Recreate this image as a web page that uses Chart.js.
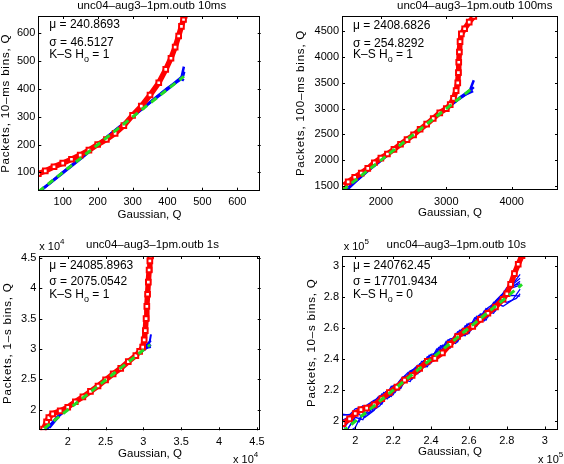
<!DOCTYPE html>
<html>
<head>
<meta charset="utf-8">
<script src="https://cdn.jsdelivr.net/npm/chart.js@4.4.1/dist/chart.umd.min.js"></script>
<style>
body { margin: 0; background: #fff; }
#wrap { position: relative; width: 564px; height: 464px; overflow: hidden; }
#wrap canvas { position: absolute; }
</style>
</head>
<body>
<div id="wrap">
  <canvas id="c10ms" width="282" height="232" style="left:0;top:0"></canvas>
  <canvas id="c100ms" width="282" height="232" style="left:282px;top:0"></canvas>
  <canvas id="c1s" width="282" height="232" style="left:0;top:232px"></canvas>
  <canvas id="c10s" width="282" height="232" style="left:282px;top:232px"></canvas>
</div>
<script>
// ---- data (Gaussian quantile, packet quantile) ----

// 10ms bins
var xTicks10ms = [100, 200, 300, 400, 500, 600];
var yTicks10ms = [100, 200, 300, 400, 500, 600];
var red10ms = [[30,95],[50,105],[75,120],[100,133],[125,147],[150,162],[175,180],[200,200],[225,218],[250,240],[275,268],[300,305],[325,338],[350,378],[375,422],[395,470],[410,510],[422,550],[432,590],[440,625],[446,650],[448,665]];
var green10ms = [[30,30],[447,445]];
var blue10ms = [
  [[30,28],[60,57],[100,97],[150,147],[200,198],[250,250],[300,300],[350,350],[400,398],[430,428],[440,440],[447,480]],
  [[32,30],[60,58],[100,99],[150,150],[200,200],[250,251],[300,301],[350,352],[400,401],[430,432],[445,447],[448,462]],
  [[35,33],[100,100],[200,201],[300,302],[400,403],[440,436],[447,430]]
];

// 100ms bins
var xTicks100ms = [2000, 3000, 4000];
var yTicks100ms = [1500, 2000, 2500, 3000, 3500, 4000, 4500];
var red100ms = [[1420,1500],[1500,1580],[1600,1670],[1700,1750],[1800,1840],[1900,1950],[2000,2040],[2100,2120],[2200,2210],[2300,2310],[2400,2400],[2500,2490],[2600,2600],[2700,2700],[2800,2810],[2900,2920],[3000,3000],[3060,3080],[3110,3200],[3150,3350],[3175,3500],[3185,3700],[3190,3900],[3200,4100],[3210,4300],[3230,4450],[3280,4550],[3350,4680],[3420,4790]];
var green100ms = [[1410,1410],[3390,3390]];
var blue100ms = [
  [[1440,1410],[1500,1460],[1600,1570],[1700,1680],[1800,1790],[2000,1990],[2200,2200],[2400,2400],[2600,2600],[2800,2800],[3000,2990],[3200,3200],[3350,3320],[3420,3550]],
  [[1460,1420],[1600,1580],[1800,1800],[2000,2000],[2400,2410],[2800,2810],[3000,3000],[3200,3210],[3380,3370],[3420,3420]],
  [[1480,1420],[1700,1690],[2200,2210],[2600,2610],[3000,3010],[3300,3280],[3410,3340]]
];

// 1s bins
var xTicks1s = [20000, 25000, 30000, 35000, 40000, 45000];
var yTicks1s = [20000, 25000, 30000, 35000, 40000, 45000];
var red1s = [[16800,16800],[17200,18000],[17500,18700],[18000,19300],[19000,19800],[20000,20400],[21000,21300],[22000,22100],[23000,23000],[24000,23900],[25000,24900],[26000,25900],[27000,26800],[28000,27900],[29000,28900],[29500,29600],[29900,30300],[30100,31500],[30250,33000],[30350,35000],[30450,37000],[30550,39000],[30650,41000],[30750,43000],[30850,44500],[30950,45300]];
var green1s = [[16900,16900],[30900,30700]];
var blue1s = [
  [[17000,16600],[17500,17300],[18000,17900],[19000,19200],[20000,20300],[22000,22200],[24000,24000],[26000,25900],[28000,27900],[29500,29500],[30500,30200],[31000,30300]],
  [[17200,16700],[18000,18000],[19000,19300],[21000,21200],[23000,23100],[25000,25000],[27000,26900],[29000,29000],[30000,29900],[30800,31000],[31000,32400]],
  [[17400,16900],[18500,18700],[20000,20200],[22000,22100],[24000,24100],[26000,26000],[28000,28000],[29800,29800],[30500,30800],[31000,31400]],
  [[17600,17000],[19000,19100],[21000,21100],[23000,22900],[25000,24900],[27000,27000],[29000,28900],[30200,29900],[31000,30700]]
];

// 10s bins
var xTicks10s = [200000, 220000, 240000, 260000, 280000, 300000];
var yTicks10s = [200000, 220000, 240000, 260000, 280000, 300000];
var red10s = [[193500,198500],[197000,201500],[200000,205000],[203000,207500],[206000,208500],[210000,210500],[214000,214500],[218000,218500],[222000,222000],[226000,226500],[230000,229500],[234000,234000],[238000,238500],[242000,240500],[246000,244000],[250000,249500],[254000,254500],[258000,258000],[262000,261000],[266000,265500],[270000,269500],[274000,273500],[278000,278500],[280000,282000],[282000,288000],[284000,295000],[286000,301000],[288000,306500]];
var green10s = [[193000,193000],[288000,288000]];
var blue10s = [
  [[193000,204000],[199000,204500],[203000,208500],[208000,211000],[213000,216500],[218000,215500],[223000,225500],[228000,231500],[233000,230500],[238000,241500],[243000,240000],[248000,251500],[253000,250000],[258000,261500],[263000,260000],[268000,271000],[273000,269500],[278000,280000],[283000,281000],[287000,280500]],
  [[194000,196000],[198000,201500],[202000,199500],[206000,209500],[211000,208500],[216000,219000],[221000,218500],[226000,229000],[231000,228500],[236000,239000],[241000,238500],[246000,249000],[251000,248500],[256000,259000],[261000,258500],[266000,269000],[271000,268500],[276000,279000],[281000,285000],[287000,294500]],
  [[195000,193000],[200000,202500],[204000,201000],[209000,212500],[214000,211000],[219000,222500],[224000,221000],[229000,232500],[234000,231500],[239000,242500],[244000,241500],[249000,252500],[254000,251000],[259000,262500],[264000,261000],[269000,272500],[274000,271000],[279000,282000],[284000,287500],[287000,290000]],
  [[196000,195000],[201000,205000],[205000,202500],[210000,207000],[215000,218500],[220000,217000],[225000,228500],[230000,227000],[235000,238500],[240000,237500],[245000,248500],[250000,247000],[255000,258500],[260000,256500],[265000,268000],[270000,267000],[275000,278500],[280000,276500],[285000,279000],[287000,282000]],
  [[193000,200500],[197000,203000],[202000,206500],[207000,204500],[212000,215500],[217000,214500],[222000,224000],[227000,225500],[232000,234500],[237000,235000],[242000,244000],[247000,245500],[252000,254000],[257000,255000],[262000,264000],[267000,265000],[272000,274500],[277000,281000],[282000,285500],[287000,287500]],
  [[197000,193500],[200000,196000],[203000,203500],[208000,206000],[213000,210000],[218000,220500],[223000,220000],[228000,230500],[233000,236000],[238000,235000],[243000,246500],[248000,245500],[253000,256500],[258000,255000],[263000,266500],[268000,264500],[273000,276500],[278000,274000],[283000,278000],[287000,285000]],
  [[193000,198000],[196000,199500],[199000,204000],[204000,210000],[209000,207500],[214000,217500],[219000,216000],[224000,227000],[229000,225500],[234000,237000],[239000,236500],[244000,247500],[249000,246500],[254000,257500],[259000,256000],[264000,267500],[269000,265000],[274000,277500],[279000,283500],[284000,289000],[287000,292000]],
  [[193000,204500],[197000,204000],[200000,208000],[205000,209500],[210000,213500],[215000,213000],[220000,223000],[225000,224000],[230000,233000],[235000,234000],[240000,243000],[245000,244000],[250000,253000],[255000,254000],[260000,263000],[265000,264000],[270000,273000],[275000,277000],[280000,286000],[287000,288500]]
];

var FONT = '"Liberation Sans", Arial, Helvetica, sans-serif';
var DASH = '\u2013';

// panel layout: canvas origin, axes box in page pixels, text spots
var panels = [
  { id: 'c10ms', cx: 0, cy: 0, box: [38.3, 260.7, 16, 190.7], x: [30, 667], y: [34, 662],
    xTicks: xTicks10ms, yTicks: yTicks10ms, exp: 0, blueWidth: 2.5,
    red: red10ms, green: green10ms, blue: blue10ms,
    title: 'unc04' + DASH + 'aug3' + DASH + '1pm.outb 10ms', titleAt: [151.7, 6],
    yTitle: 'Packets, 10' + DASH + 'ms bins, Q', yTitleX: 5.5, xTitlePad: 10,
    mu: '240.8693', sigma: '46.5127', h: '1', statAt: [49.3, 25, 42.7, 55] },
  { id: 'c100ms', cx: 282, cy: 0, box: [342, 558.7, 16, 190], x: [1406, 4707], y: [1422, 4798],
    xTicks: xTicks100ms, yTicks: yTicks100ms, exp: 0, blueWidth: 2.5,
    red: red100ms, green: green100ms, blue: blue100ms,
    title: 'unc04' + DASH + 'aug3' + DASH + '1pm.outb 100ms', titleAt: [474.7, 6],
    yTitle: 'Packets, 100' + DASH + 'ms bins, Q', yTitleX: 301, xTitlePad: 12,
    mu: '2408.6826', sigma: '254.8292', h: '1', statAt: [353, 26, 43.3, 55] },
  { id: 'c1s', cx: 0, cy: 232, box: [39.3, 260.7, 256, 430.3], x: [16240, 45500], y: [16600, 45300],
    xTicks: xTicks1s, yTicks: yTicks1s, exp: 4, blueWidth: 2,
    red: red1s, green: green1s, blue: blue1s,
    title: 'unc04' + DASH + 'aug3' + DASH + '1pm.outb 1s', titleAt: [152.5, 244.7],
    yTitle: 'Packets, 1' + DASH + 's bins, Q', yTitleX: 8.3, xTitlePad: 3.3,
    mu: '24085.8963', sigma: '2075.0542', h: '1', statAt: [49.3, 265.3, 282, 294.3],
    expTop: [39.3, 247], expBottom: [233, 460] },
  { id: 'c10s', cx: 282, cy: 232, box: [342, 563, 256, 429.5], x: [193000, 307000], y: [194700, 306300],
    xTicks: xTicks10s, yTicks: yTicks10s, exp: 5, blueWidth: 1.3,
    red: red10s, green: green10s, blue: blue10s,
    title: 'unc04' + DASH + 'aug3' + DASH + '1pm.outb 10s', titleAt: [456.3, 244.7],
    yTitle: 'Packets, 10' + DASH + 's bins, Q', yTitleX: 312, xTitlePad: 5,
    mu: '240762.45', sigma: '17701.9434', h: '0', statAt: [353, 265.3, 282, 294.3],
    expTop: [343.7, 247], expBottom: [538, 460] }
];

function toPoints(arr) {
  return arr.map(function (p) { return { x: p[0], y: p[1] }; });
}

function fmtTick(v, exp) {
  var d = v / Math.pow(10, exp);
  return String(+d.toFixed(2));
}

// draws box, inward ticks, titles, stats text and exponent labels
var decorPlugin = {
  id: 'decor',
  afterDraw: function (chart) {
    var p = chart.options.plugins.decor.panel;
    var ctx = chart.ctx;
    var a = chart.chartArea;
    var xs = chart.scales.x, ys = chart.scales.y;
    ctx.save();
    ctx.strokeStyle = '#000';
    ctx.lineWidth = 1;
    ctx.strokeRect(Math.round(a.left) + 0.5, Math.round(a.top) + 0.5, Math.round(a.right - a.left) - 1, Math.round(a.bottom - a.top) - 1);
    ctx.beginPath();
    p.xTicks.forEach(function (v) {
      var px = Math.round(xs.getPixelForValue(v)) + 0.5;
      if (px < a.left || px > a.right) return;
      ctx.moveTo(px, a.bottom); ctx.lineTo(px, a.bottom - 3);
      ctx.moveTo(px, a.top); ctx.lineTo(px, a.top + 3);
    });
    p.yTicks.forEach(function (v) {
      var py = Math.round(ys.getPixelForValue(v)) + 0.5;
      if (py < a.top || py > a.bottom) return;
      ctx.moveTo(a.left, py); ctx.lineTo(a.left + 3, py);
      ctx.moveTo(a.right, py); ctx.lineTo(a.right - 3, py);
    });
    ctx.stroke();

    ctx.fillStyle = '#000';
    ctx.textBaseline = 'middle';

    // panel title
    ctx.font = '11.5px ' + FONT;
    ctx.textAlign = 'center';
    ctx.fillText(p.title, p.titleAt[0] - p.cx, p.titleAt[1] - p.cy);

    // y axis title, rotated
    ctx.save();
    ctx.translate(p.yTitleX - p.cx, (a.top + a.bottom) / 2);
    ctx.rotate(-Math.PI / 2);
    ctx.font = '11.5px ' + FONT;
    if ('letterSpacing' in ctx) ctx.letterSpacing = '0.8px';
    ctx.fillText(p.yTitle, 0, 0);
    ctx.restore();

    // stats
    ctx.textAlign = 'left';
    ctx.font = '12px ' + FONT;
    var sx = p.statAt[0] - p.cx;
    ctx.fillText('\u03bc = ' + p.mu, sx, p.statAt[1] - p.cy);
    ctx.fillText('\u03c3 = ' + p.sigma, sx, p.statAt[2] - p.cy);
    var ky = p.statAt[3] - p.cy;
    var w = ctx.measureText('K' + DASH + 'S H').width;
    ctx.fillText('K' + DASH + 'S H', sx, ky);
    ctx.font = '9px ' + FONT;
    ctx.fillText('o', sx + w, ky + 5);
    var w2 = ctx.measureText('o').width;
    ctx.font = '12px ' + FONT;
    ctx.fillText(' = ' + p.h, sx + w + w2, ky);

    // exponent labels
    if (p.exp) {
      [p.expTop, p.expBottom].forEach(function (pos) {
        var ex = pos[0] - p.cx, ey = pos[1] - p.cy;
        ctx.font = '11px ' + FONT;
        ctx.fillText('x 10', ex, ey);
        var ew = ctx.measureText('x 10').width;
        ctx.font = '8px ' + FONT;
        ctx.fillText(String(p.exp), ex + ew, ey - 5);
      });
    }
    ctx.restore();
  }
};

panels.forEach(function (p) {
  var cw = 282, ch = 232;
  var L = p.box[0] - p.cx, R = p.box[1] - p.cx, T = p.box[2] - p.cy, B = p.box[3] - p.cy;

  var datasets = [];
  datasets.push({
    data: toPoints(p.green), showLine: true, borderColor: '#22dd22', borderWidth: 3,
    borderDash: [7, 5], pointRadius: 0, order: 0
  });
  datasets.push({
    data: toPoints(p.red), showLine: true, borderColor: '#ff0000', borderWidth: 5.5,
    pointStyle: 'rect', pointRadius: 3.3, pointBorderWidth: 2, pointBorderColor: '#ff0000',
    pointBackgroundColor: '#ffffff', order: 1
  });
  p.blue.forEach(function (b) {
    datasets.push({
      data: toPoints(b), showLine: true, borderColor: '#0000ff', borderWidth: p.blueWidth,
      pointRadius: 0, order: 2
    });
  });

  new Chart(document.getElementById(p.id), {
    type: 'scatter',
    data: { datasets: datasets },
    plugins: [decorPlugin],
    options: {
      responsive: false,
      animation: false,
      events: [],
      layout: { padding: { left: 0, top: T, right: cw - R, bottom: 0 } },
      plugins: {
        legend: { display: false },
        tooltip: { enabled: false },
        decor: { panel: p }
      },
      scales: {
        x: {
          type: 'linear', min: p.x[0], max: p.x[1],
          grid: { display: false, drawTicks: false },
          border: { display: false },
          afterBuildTicks: function (s) { s.ticks = p.xTicks.map(function (v) { return { value: v }; }); },
          afterFit: function (s) { s.height = ch - B; s.paddingLeft = 0; s.paddingRight = 0; },
          ticks: {
            autoSkip: false, maxRotation: 0, padding: 5, color: '#000',
            font: { family: FONT, size: 11 },
            callback: function (v) { return fmtTick(v, p.exp); }
          },
          title: { display: true, text: 'Gaussian, Q', color: '#000', font: { family: FONT, size: 11.5 },
                   padding: { top: 0, bottom: p.xTitlePad } }
        },
        y: {
          type: 'linear', min: p.y[0], max: p.y[1],
          grid: { display: false, drawTicks: false },
          border: { display: false },
          afterBuildTicks: function (s) { s.ticks = p.yTicks.map(function (v) { return { value: v }; }); },
          afterFit: function (s) { s.width = L; s.paddingTop = 0; s.paddingBottom = 0; },
          ticks: {
            autoSkip: false, padding: 3, color: '#000',
            font: { family: FONT, size: 11 },
            callback: function (v) { return fmtTick(v, p.exp); }
          }
        }
      }
    }
  });
});
</script>
</body>
</html>
